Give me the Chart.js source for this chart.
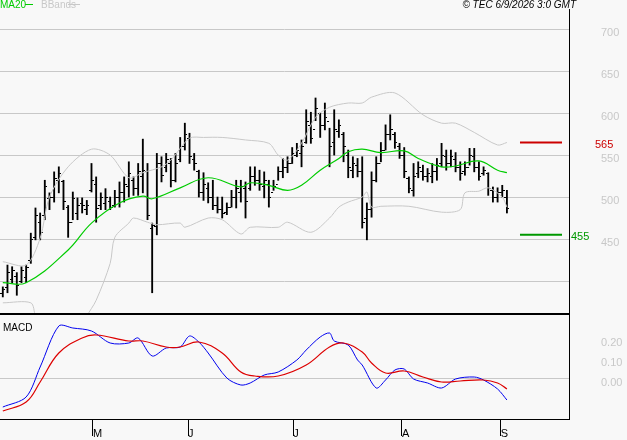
<!DOCTYPE html>
<html>
<head>
<meta charset="utf-8">
<script src="https://cdn.jsdelivr.net/npm/chart.js@4/dist/chart.umd.min.js"></script>
<style>
  body { margin: 0; background: #f8f8f8; }
  #wrap { position: relative; width: 627px; height: 440px; background: #f8f8f8; }
  canvas { position: absolute; left: 0; }
</style>
</head>
<body>
<div id="wrap">
  <canvas id="price" width="627" height="316" style="top:0;width:627px;height:316px"></canvas>
  <canvas id="macd" width="627" height="124" style="top:316px;width:627px;height:124px"></canvas>
</div>
<script>
// daily bars: high, low, open, close
const highs = [393,419,417,410,417,419,457,487,481,520,505,530,536,520,490,506,499,499,496,540,
  524,505,510,500,508,518,524,542,524,540,569,540,469,552,548,552,546,552,571,588,
  576,552,532,529,517,520,500,500,493,508,520,520,518,536,536,532,530,520,520,536,
  546,548,559,564,568,604,601,618,600,612,582,604,592,577,556,548,546,548,493,530,
  548,565,586,598,577,564,559,524,540,542,538,534,540,546,564,556,556,553,542,542,
  558,558,542,536,529,512,511,514,508];
const lows = [381,386,398,383,398,398,421,449,449,473,485,494,505,485,452,473,473,481,479,506,
  470,485,485,485,488,488,494,500,502,502,505,473,386,455,518,530,512,518,542,556,
  540,532,500,496,493,485,481,475,479,488,487,494,475,508,514,508,499,488,508,520,
  523,529,540,548,536,564,564,591,571,580,536,550,571,542,523,523,524,463,449,476,
  518,542,556,568,558,546,523,505,501,523,520,518,517,520,536,532,536,530,520,526,
  538,530,520,526,502,494,494,500,481];
const opens = [385,392,402,405,400,404,425,452,470,478,498,500,520,518,488,470,480,492,485,508,
  515,490,492,495,490,500,505,512,520,510,525,530,462,465,540,535,540,520,545,560,
  570,545,530,505,510,500,490,485,482,488,500,505,510,510,525,520,512,515,505,515,
  530,535,540,550,552,565,585,580,600,585,590,565,578,575,550,532,538,530,475,485,
  520,540,555,575,575,560,550,522,508,528,530,525,525,530,540,548,540,545,535,530,
  535,548,535,528,528,508,500,505,500];
const closes = [390,410,412,395,413,416,450,478,458,512,500,522,528,495,470,498,490,490,490,520,
  486,500,500,488,500,505,515,528,510,530,532,478,466,540,526,545,520,540,560,575,
  548,540,505,515,500,490,485,480,488,500,510,512,495,525,520,515,520,500,512,530,
  535,540,552,555,560,590,570,605,585,595,560,580,585,560,535,540,530,470,485,520,
  540,555,575,580,565,550,530,510,525,535,525,528,530,538,550,540,548,535,528,535,
  550,535,525,532,510,500,505,508,486];

// overlays read at sample bars: [bar index, value]
const ma20 = [[0,398],[5,398],[14,437],[19,469],[25,493],[30,501],[32,498],[38,511],[44,523],[51,512],
  [53,517],[57,514],[61,508],[64,514],[68,532],[72,546],[74,554],[77,557],[81,553],[86,555],
  [89,546],[94,536],[97,537],[102,543],[106,532],[108,529]];
const bbUpper = [[0,423],[5,419],[8,451],[10,500],[14,536],[19,557],[23,550],[27,523],[30,529],[34,536],
  [36,544],[40,570],[43,571],[47,571],[52,568],[57,564],[59,550],[61,544],[64,564],[67,595],
  [70,607],[74,612],[77,612],[79,619],[84,624],[90,598],[94,588],[97,588],[101,577],[106,562],[108,565]];
const bbLower = [[0,374],[6,374],[7,358],[10,320],[15,320],[18,358],[20,377],[23,421],[24,452],[27,469],
  [28,475],[31,470],[33,467],[38,469],[39,464],[44,475],[47,473],[51,456],[53,464],[59,464],
  [61,470],[66,458],[70,475],[72,488],[74,494],[77,500],[78,506],[79,488],[81,489],[87,489],
  [94,482],[98,485],[99,505],[102,507],[104,511],[107,500],[108,488]];

const macdLine = [[0,-0.14],[5,-0.09],[8,0.06],[12,0.265],[15,0.255],[19,0.24],[23,0.18],[27,0.18],[29,0.205],
  [32,0.115],[35,0.155],[38,0.16],[40,0.215],[42,0.185],[44,0.13],[48,0.005],[51,-0.03],[53,-0.02],
  [56,0.02],[59,0.035],[63,0.095],[65,0.145],[68,0.21],[70,0.23],[71,0.19],[74,0.17],[76,0.095],
  [77,0.07],[80,-0.045],[82,-0.005],[84,0.045],[86,0.05],[88,0],[91,-0.02],[94,-0.045],[97,0],
  [101,0.01],[103,-0.005],[106,-0.05],[108,-0.105]];
const signalLine = [[0,-0.16],[5,-0.115],[8,-0.015],[12,0.13],[17,0.205],[20,0.22],[27,0.19],[30,0.19],
  [35,0.16],[38,0.16],[42,0.185],[47,0.13],[51,0.035],[54,0.015],[59,0.015],[65,0.07],[70,0.16],
  [73,0.18],[77,0.135],[79,0.08],[82,0.03],[86,0.04],[90,0.01],[94,-0.015],[98,-0.01],[103,-0.005],
  [106,-0.02],[108,-0.05]];

// target levels on the right
const levels = [565, 455];
const levelColors = ['#cc0000', '#009900'];
const levelSpan = [110.8, 119.8];

const priceTicks = [400, 450, 500, 550, 600, 650, 700];
const macdTicks = [0, 0.1, 0.2];
const monthPos = [19.3, 39.7, 62.2, 85.5, 106.7];
const monthLabels = ['M', 'J', 'J', 'A', 'S'];

const X_MIN = -0.6, X_MAX = 121.3;
const FONT = 'Liberation Sans';
const GRAY = '#c8c8c8';

function toXY(pairs) { return pairs.map(p => ({x: p[0], y: p[1]})); }

function tickImage(side) {
    const c = document.createElement('canvas');
    c.width = 5; c.height = 1;
    const g = c.getContext('2d');
    g.fillStyle = '#000';
    g.fillRect(side === 'left' ? 0 : 3, 0, 2, 1);
    return c;
}

// keep the plot areas at fixed pixel edges
function fitY(s) { s.width = 58; s.paddingTop = 0; s.paddingBottom = 0; }

const pricePlugin = {
    id: 'priceDeco',
    afterDraw(chart) {
        const ctx = chart.ctx, a = chart.chartArea, y = chart.scales.y;
        ctx.save();
        ctx.fillStyle = '#000';
        ctx.fillRect(0, a.bottom - 2, a.right, 2);
        ctx.font = '10px ' + FONT;
        ctx.textBaseline = 'top';
        ctx.fillStyle = '#00cc00';
        ctx.fillText('MA20', 0, 0);
        ctx.fillRect(25, 4, 8, 1);
        ctx.fillStyle = GRAY;
        ctx.fillText('BBands', 41, 0);
        ctx.fillRect(68, 4, 12, 1);
        ctx.fillStyle = '#000';
        ctx.font = 'italic 10px ' + FONT;
        ctx.textAlign = 'right';
        ctx.fillText('\u00a9 TEC 6/9/2026 3:0 GMT', 576, 0);
        ctx.textAlign = 'left';
        ctx.textBaseline = 'middle';
        ctx.font = '11px ' + FONT;
        levels.forEach((v, i) => {
            ctx.fillStyle = levelColors[i];
            ctx.fillText(String(v), i === 0 ? 595 : 571, y.getPixelForValue(v) + 2);
        });
        ctx.restore();
    }
};

const macdPlugin = {
    id: 'macdDeco',
    afterDraw(chart) {
        const ctx = chart.ctx;
        ctx.save();
        ctx.font = '10px ' + FONT;
        ctx.fillStyle = '#000';
        ctx.textBaseline = 'top';
        ctx.fillText('MACD', 3, 7);
        ctx.restore();
    }
};

const idx = highs.map((_, i) => i);

new Chart(document.getElementById('price'), {
    type: 'bar',
    data: {
        datasets: [
            { type: 'line', data: toXY(bbUpper), borderColor: GRAY, borderWidth: 1, pointRadius: 0, tension: 0.3 },
            { type: 'line', data: toXY(bbLower), borderColor: GRAY, borderWidth: 1, pointRadius: 0, tension: 0.3 },
            { type: 'line', data: toXY(ma20), borderColor: '#00cc00', borderWidth: 1.2, pointRadius: 0, tension: 0.4 },
            { data: idx.map(i => ({x: i, y: [lows[i], highs[i]]})), backgroundColor: '#000', barThickness: 1.2 },
            { type: 'scatter', data: idx.map(i => ({x: i, y: opens[i]})), pointStyle: tickImage('left') },
            { type: 'scatter', data: idx.map(i => ({x: i, y: closes[i]})), pointStyle: tickImage('right') },
            ...levels.map((v, i) => ({
                type: 'line', data: levelSpan.map(x => ({x, y: v})),
                borderColor: levelColors[i], borderWidth: 2, pointRadius: 0
            }))
        ]
    },
    options: {
        responsive: false, maintainAspectRatio: false, animation: false,
        layout: { padding: { top: 9, bottom: 1, left: 0, right: 0 }, autoPadding: false },
        plugins: { legend: { display: false }, tooltip: { enabled: false } },
        scales: {
            x: { type: 'linear', min: X_MIN, max: X_MAX, offset: false, display: false },
            y: {
                position: 'right', min: 359.5, max: 724,
                afterBuildTicks: s => { s.ticks = priceTicks.map(v => ({value: v})); },
                afterFit: fitY,
                border: { display: true, color: '#000', width: 1 },
                grid: { color: GRAY, tickLength: 0 },
                ticks: {
                    color: GRAY, padding: 32, labelOffset: 4,
                    font: { family: FONT, size: 11 },
                    callback: v => v === 400 ? '' : v
                }
            }
        }
    },
    plugins: [pricePlugin]
});

new Chart(document.getElementById('macd'), {
    type: 'line',
    data: {
        datasets: [
            { data: toXY(signalLine), borderColor: '#dd0000', borderWidth: 1.2, pointRadius: 0, tension: 0.4 },
            { data: toXY(macdLine), borderColor: '#0000ee', borderWidth: 1, pointRadius: 0, tension: 0.3 }
        ]
    },
    options: {
        responsive: false, maintainAspectRatio: false, animation: false,
        layout: { padding: 0, autoPadding: false },
        plugins: { legend: { display: false }, tooltip: { enabled: false } },
        scales: {
            x: {
                type: 'linear', min: X_MIN, max: X_MAX, offset: false,
                afterBuildTicks: s => { s.ticks = monthPos.map(v => ({value: v})); },
                afterFit: s => { s.height = 21; s.paddingLeft = 0; s.paddingRight = 0; },
                border: { display: true, color: '#000', width: 1 },
                grid: { drawOnChartArea: false, color: '#000', tickLength: 17 },
                ticks: {
                    align: 'start', padding: -9, maxRotation: 0, autoSkip: false, color: '#000',
                    font: { family: FONT, size: 11 },
                    callback: (v, i) => monthLabels[i]
                }
            },
            y: {
                position: 'right', min: -0.2, max: 0.315,
                afterBuildTicks: s => { s.ticks = macdTicks.map(v => ({value: v})); },
                afterFit: fitY,
                border: { display: true, color: '#000', width: 1 },
                grid: { color: c => c.tick && c.tick.value === 0 ? GRAY : 'rgba(0,0,0,0)', tickLength: 0 },
                ticks: {
                    color: GRAY, padding: 32, labelOffset: 4,
                    font: { family: FONT, size: 11 },
                    callback: v => v.toFixed(2)
                }
            }
        }
    },
    plugins: [macdPlugin]
});
</script>
</body>
</html>
